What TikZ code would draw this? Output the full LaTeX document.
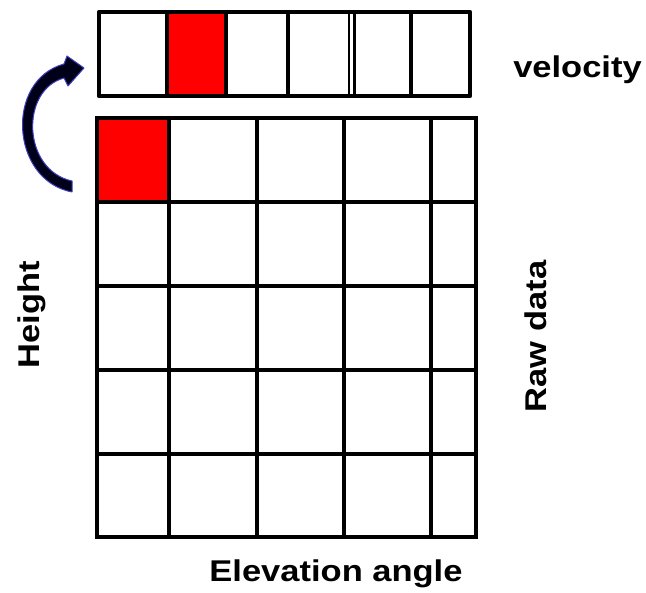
\documentclass[tikz,border=0pt]{standalone}
\usepackage{fontspec}
\setmainfont{Liberation Sans}[FakeStretch=1.15]
\begin{document}
\begin{tikzpicture}[x=1pt,y=-1pt,
  gridline/.style={line width=4.3pt,line cap=rect},
  barframe/.style={line width=4.5pt,line join=round},
  barline/.style={line width=3.2pt},
  thinbar/.style={line width=2.6pt},
  lbl/.style={font=\fontsize{30}{34}\selectfont\bfseries,inner sep=0pt}]
\useasboundingbox (0,0) rectangle (646,593);
% ---- top bar (velocity) ----
\fill[red] (167,14) rectangle (226,94);
\foreach \x in {167,226,288,411}
  \draw[barline] (\x,12) -- (\x,96);
\foreach \x in {349,354.5}
  \draw[thinbar] (\x,12) -- (\x,96);
\draw[barframe] (99,12) rectangle (470,96);
% ---- grid (raw data) ----
\fill[red] (97,118) rectangle (169,202);
\foreach \x in {169,257,344,431}
  \draw[gridline] (\x,118) -- (\x,537);
\foreach \y in {202,286,370,454}
  \draw[gridline] (97,\y) -- (476,\y);
\draw[gridline,line join=miter] (97,118) rectangle (476,537);
% ---- curved arrow ----
\fill[fill=black!90!blue,draw=blue!50!gray,line width=1pt,line join=round]
  (72,192) .. controls (10,180) and (5,80) .. (64,64) -- (67,56) -- (84,68)
  -- (68,86) -- (64,78) .. controls (20,90) and (22,170) .. (72,181) -- cycle;
% ---- labels ----
\node[lbl,anchor=base] (vel) at (577.5,78) {velocity};
\node[lbl,anchor=base] (elev) at (336,582) {Elevation angle};
\node[lbl,anchor=base,rotate=90] (hgt) at (39,315) {Height};
\node[lbl,anchor=base,rotate=90] (raw) at (546,336.5) {Raw data};
\end{tikzpicture}
\end{document}
